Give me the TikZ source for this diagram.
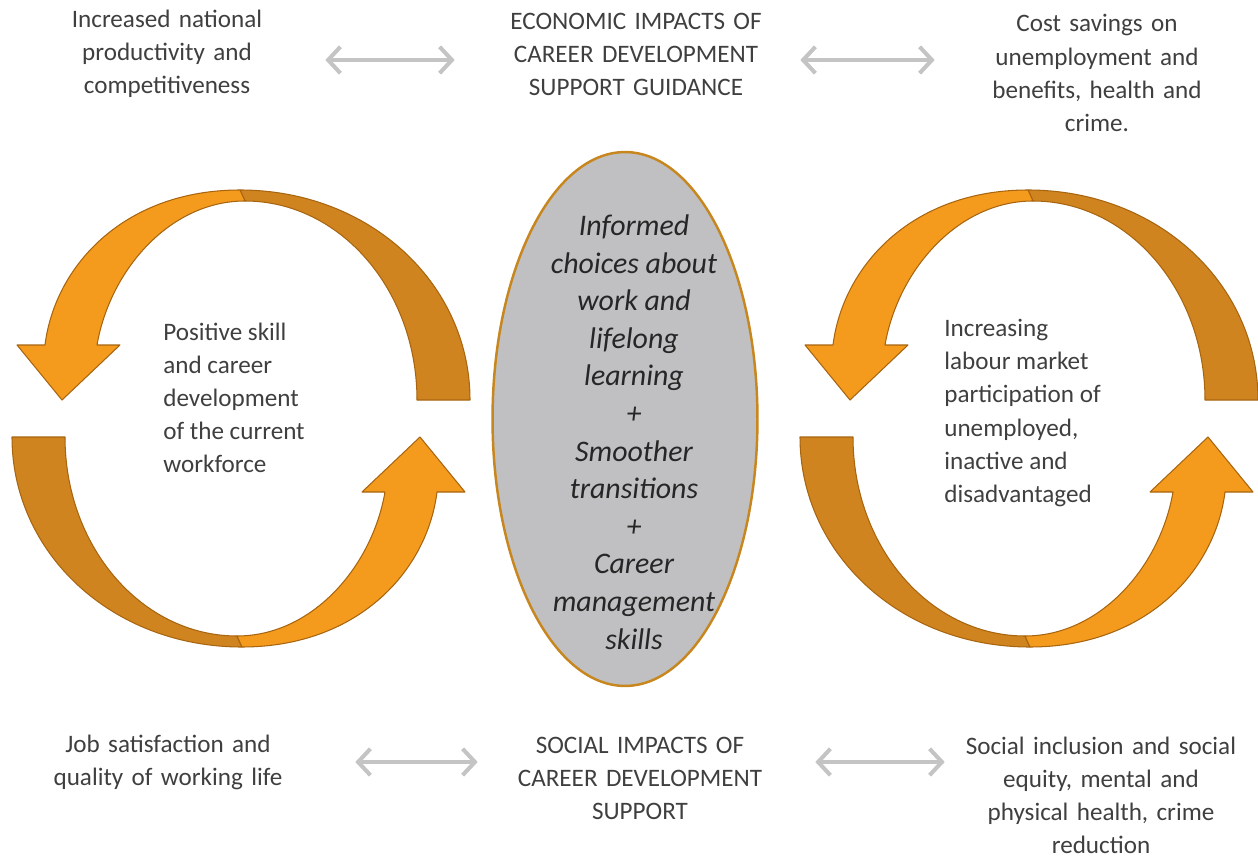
\documentclass[tikz,border=0pt]{standalone}
\usepackage{fontspec}
\setmainfont{Carlito}
\usetikzlibrary{arrows.meta,shapes.geometric}
\definecolor{ringlight}{HTML}{F49B1E}
\definecolor{ringdark}{HTML}{D0841F}
\definecolor{ringedge}{HTML}{A8650F}
\definecolor{coregrey}{HTML}{C0C0C2}
\definecolor{coreedge}{HTML}{C8861E}
\definecolor{txtgrey}{HTML}{3F3F3F}
\definecolor{linkgrey}{HTML}{C4C4C4}

\tikzset{
  impact/.style={align=center, text=txtgrey, inner sep=0pt,
    font=\fontsize{14.3}{18.8}\selectfont},
  effect/.style={impact, align=left, anchor=west},
  link/.style={linkgrey, line width=2.3pt,
    {Straight Barb[length=7pt,width=15pt]}-{Straight Barb[length=7pt,width=15pt]}},
  darkpart/.style={fill=ringdark, draw=ringedge, line width=0.6pt, line join=round},
  lightpart/.style={fill=ringlight, draw=ringedge, line width=0.6pt, line join=round},
  core/.style={ellipse, fill=coregrey, draw=coreedge, line width=1.4pt,
    minimum width=5.3cm, minimum height=10.68cm, inner sep=0pt},
  coretext/.style={align=center, text=black!85, inner sep=0pt,
    font=\fontsize{17}{21.4}\selectfont\itshape}
}

\begin{document}
\begin{tikzpicture}[x=0.02cm, y=-0.02cm]
  \useasboundingbox (0,0) rectangle (1258,858);

  % the two circular arrows
  \foreach \dx in {0,788}{
    \foreach \rot in {0,180}{
      \begin{scope}[shift={(\dx,0)}, rotate around={\rot:(241,418.5)}]
        \draw[darkpart] (240,190) .. controls (370,190) and (470,284) .. (470,400)
          -- (417,400) .. controls (417,290) and (340,201) .. (245,201) -- cycle;
        \draw[lightpart] (240,190) .. controls (125,190) and (55,265) .. (45,345)
          -- (17,345) -- (62,400) -- (120,345) -- (97,345)
          .. controls (110,270) and (170,201) .. (245,201) -- cycle;
      \end{scope}
    }
  }

  \node[core] (core) at (625,419) {};
  \node[coretext] (choices) at (634,432) {Informed\\choices about\\work and\\lifelong\\learning\\+\\Smoother\\transitions\\+\\Career\\management\\skills};

  \node[effect] (workforce) at (163,398) {Positive skill\\and career\\development\\of the current\\workforce};
  \node[effect] (labour) at (944,413) {Increasing\\labour market\\participation of\\unemployed,\\inactive and\\disadvantaged};

  \node[impact, text width=4.4cm] (prod) at (167,54) {Increased national\\productivity and\\competitiveness};
  \node[impact, text width=6cm] (econ) at (636,54) {ECONOMIC IMPACTS OF\\CAREER DEVELOPMENT\\SUPPORT GUIDANCE};
  \node[impact, text width=4.8cm] (cost) at (1097,73) {Cost savings on\\unemployment and\\benefits, health and\\crime.};

  \node[impact, text width=5.2cm] (job) at (168,762) {Job satisfaction and\\quality of working life};
  \node[impact, text width=6cm] (social) at (640,778) {SOCIAL IMPACTS OF\\CAREER DEVELOPMENT\\SUPPORT};
  \node[impact, text width=5.6cm] (inclu) at (1101,795) {Social inclusion and social\\equity, mental and\\physical health, crime\\reduction};

  \draw[link, shorten <=0.96cm, shorten >=0.62cm] ([yshift=-0.12cm]prod.east) -- ([yshift=-0.12cm]econ.west);
  \draw[link, shorten <=0.28cm, shorten >=0.84cm] ([yshift=-0.12cm]econ.east) -- ([yshift=-0.12cm]econ.east -| cost.west);
  \draw[link, shorten <=1.14cm, shorten >=0.24cm] (job.east) -- (job.east -| social.west);
  \draw[link, shorten <=0.5cm, shorten >=0.32cm] (job.east -| social.east) -- (job.east -| inclu.west);
\end{tikzpicture}
\end{document}
